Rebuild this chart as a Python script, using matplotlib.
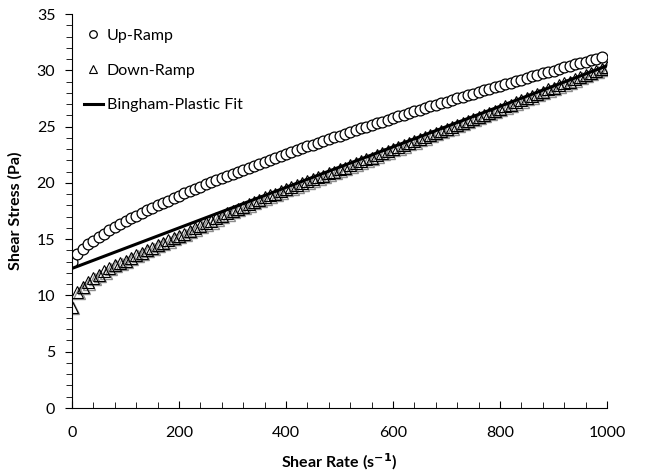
import matplotlib
matplotlib.use("Agg")
import matplotlib.pyplot as plt
import matplotlib.transforms as mtransforms
from matplotlib.ticker import MultipleLocator

plt.rcParams["font.family"] = ["Lato", "DejaVu Sans"]

# Up-ramp: shear rate 0..990 s^-1, 10 s^-1 steps
up_rate = list(range(0, 1000, 10))
up_stress = [
    13.00, 13.70, 14.15, 14.53, 14.87, 15.19, 15.50, 15.79, 16.06, 16.33,
    16.58, 16.84, 17.08, 17.32, 17.55, 17.78, 18.00, 18.22, 18.43, 18.65,
    18.86, 19.06, 19.26, 19.46, 19.66, 19.86, 20.05, 20.24, 20.43, 20.62,
    20.81, 20.99, 21.17, 21.35, 21.53, 21.70, 21.88, 22.05, 22.22, 22.39,
    22.56, 22.74, 22.90, 23.07, 23.24, 23.39, 23.56, 23.72, 23.88, 24.04,
    24.20, 24.36, 24.52, 24.67, 24.83, 24.99, 25.13, 25.29, 25.44, 25.59,
    25.74, 25.90, 26.05, 26.20, 26.34, 26.49, 26.64, 26.79, 26.93, 27.07,
    27.21, 27.37, 27.50, 27.64, 27.79, 27.92, 28.07, 28.21, 28.35, 28.49,
    28.63, 28.76, 28.91, 29.04, 29.18, 29.31, 29.45, 29.58, 29.72, 29.85,
    29.98, 30.12, 30.25, 30.38, 30.52, 30.65, 30.78, 30.91, 31.04, 31.17,
]

# Down-ramp: shear rate 0..1000 s^-1
down_rate = list(range(0, 1010, 10))
down_stress = [
    9.00, 10.30, 10.75, 11.15, 11.55, 11.85, 12.15, 12.45, 12.70, 12.90,
    13.10, 13.35, 13.60, 13.80, 14.05, 14.25, 14.50, 14.70, 14.90, 15.10,
    15.30, 15.50, 15.75, 15.95, 16.20, 16.40, 16.60, 16.85, 17.05, 17.30,
    17.50, 17.70, 17.90, 18.10, 18.30, 18.50, 18.70, 18.90, 19.05, 19.25,
    19.45, 19.60, 19.80, 19.95, 20.15, 20.30, 20.50, 20.65, 20.85, 21.00,
    21.20, 21.35, 21.55, 21.75, 21.90, 22.10, 22.25, 22.45, 22.65, 22.80,
    23.00, 23.15, 23.35, 23.55, 23.70, 23.90, 24.05, 24.25, 24.45, 24.60,
    24.80, 24.95, 25.15, 25.35, 25.50, 25.70, 25.85, 26.05, 26.25, 26.40,
    26.60, 26.80, 26.95, 27.15, 27.35, 27.55, 27.70, 27.90, 28.10, 28.30,
    28.45, 28.65, 28.85, 29.00, 29.20, 29.40, 29.60, 29.75, 29.95, 30.15,
    30.30,
]

# Bingham-plastic fit: tau = tau_y + mu_p * gamma_dot
fit_rate = [0, 1000]
fit_stress = [12.4, 30.4]

fig = plt.figure(figsize=(6.56, 4.73), dpi=100)
ax = fig.add_axes([0.1098, 0.1374, 0.8155, 0.833])

# soft grey drop shadow behind the down-ramp triangles
shadow = mtransforms.offset_copy(ax.transData, fig=fig, x=1.0, y=-1.0, units="points")
ax.plot(down_rate, down_stress, ls="none", marker="^", ms=9, mfc="none",
        mec="#8c8c8c", mew=1.0, transform=shadow, zorder=1)

ax.plot(up_rate, up_stress, ls="none", marker="o", ms=7.8, mfc="white",
        mec="black", mew=0.9, label="Up-Ramp", zorder=2)
ax.plot(down_rate, down_stress, ls="none", marker="^", ms=9, mfc="none",
        mec="black", mew=0.8, label="Down-Ramp", zorder=2)
ax.plot(fit_rate, fit_stress, color="black", lw=2.2, label="Bingham-Plastic Fit", zorder=3)

ax.set_xlim(0, 1000)
ax.set_ylim(0, 35)
ax.xaxis.set_major_locator(MultipleLocator(200))
ax.xaxis.set_minor_locator(MultipleLocator(40))
ax.yaxis.set_major_locator(MultipleLocator(5))
ax.yaxis.set_minor_locator(MultipleLocator(1))
ax.tick_params(axis="x", which="both", direction="in", labelsize=11.5, pad=13)
ax.tick_params(axis="x", which="major", length=5)
ax.tick_params(axis="x", which="minor", length=4)
ax.tick_params(axis="y", which="both", direction="out", labelsize=11.5, pad=7)
ax.tick_params(axis="y", which="major", length=5)
ax.tick_params(axis="y", which="minor", length=4)
for side in ("top", "right"):
    ax.spines[side].set_visible(False)

ax.set_xlabel("Shear Rate (s$^{\\mathbf{-1}}$)", fontsize=11.5, fontweight="bold", labelpad=8)
ax.set_ylabel("Shear Stress (Pa)", fontsize=11.5, fontweight="bold", labelpad=10)

leg = ax.legend(loc="upper left", bbox_to_anchor=(-0.005, 1.0), frameon=False,
                fontsize=11.5, handlelength=1.2, handletextpad=0.25,
                labelspacing=1.3, markerscale=0.7)

fig.savefig("out.png", dpi=100)
